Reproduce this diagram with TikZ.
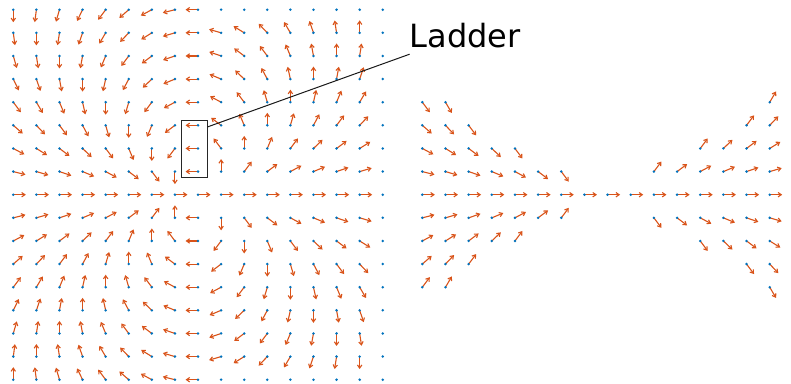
\documentclass[tikz,border=0pt]{standalone}
\usepackage{fontspec}
\setmainfont{DejaVu Sans}
\usetikzlibrary{arrows.meta,calc}
\definecolor{qorange}{RGB}{217,83,25}
\definecolor{qblue}{RGB}{0,114,189}
\tikzset{
  vec/.style={draw=qorange, line width=1.1pt, -{Straight Barb[length=3.2pt,width=4.4pt]}},
  fielddot/.style={fill=qblue},
  calloutbox/.style={draw=black!85, line width=1pt, minimum width=25.3pt, minimum height=57pt, inner sep=0pt},
  leader/.style={draw=black!90, line width=1pt},
  calloutlabel/.style={font=\fontsize{32}{38}\selectfont, anchor=base west, inner sep=0pt}
}
\begin{document}
\begin{tikzpicture}[x=1pt,y=-1pt]
\useasboundingbox (0,0) rectangle (791,383);
% left panel: full grid 17x17
\foreach \j in {0,...,16}{
  \foreach \i in {0,...,16}{
    \pgfmathsetmacro{\px}{13.3+23.09*\j}
    \pgfmathsetmacro{\py}{9.7+23.125*\i}
    \def\show{1}
    \ifnum\j=16 \def\show{0}\fi
    \ifnum\j>8 \ifnum\i=0 \def\show{0}\fi \ifnum\i=16 \def\show{0}\fi \fi
    \def\ang{0}
    \ifnum\i=8 \ifnum\j=8 \else \pgfmathsetmacro{\ang}{2*atan2(\i-8,\j-8)}\fi
    \else \pgfmathsetmacro{\ang}{2*atan2(\i-8,\j-8)}\fi
    \if1\show
      \draw[vec] (\px,\py) -- ++({12.5*cos(\ang)},{12.5*sin(\ang)});
    \fi
    \fill[fielddot] (\px,\py) circle (1.4pt);
  }
}
% right panel: cone-masked grid
\foreach \k in {0,...,15}{
  \foreach \i in {4,...,12}{
    \pgfmathsetmacro{\px}{422.3+23.16*\k}
    \pgfmathsetmacro{\py}{9.7+23.125*\i}
    \pgfmathtruncatemacro{\show}{abs(\i-8) < 0.5774*abs(\k-8)+0.001 ? 1 : 0}
    \ifnum\show=1
      \def\ang{0}
      \ifnum\i=8 \ifnum\k=8 \else \pgfmathsetmacro{\ang}{2*atan2(\i-8,\k-8)}\fi
      \else \pgfmathsetmacro{\ang}{2*atan2(\i-8,\k-8)}\fi
      \draw[vec] (\px,\py) -- ++({12.5*cos(\ang)},{12.5*sin(\ang)});
      \fill[fielddot] (\px,\py) circle (1.4pt);
    \fi
  }
}
% callout
\node[calloutbox] (ladderbox) at (194.35,149.2) {};
\node[calloutlabel] (ladderlabel) at (409.6,47.7) {Ladder};
\coordinate (leaderend) at ($(ladderlabel.base west)+(0,6.5)$);
\draw[leader] ($(ladderbox.north east)!0.116!(ladderbox.south east)$) -- (leaderend);
\end{tikzpicture}
\end{document}
